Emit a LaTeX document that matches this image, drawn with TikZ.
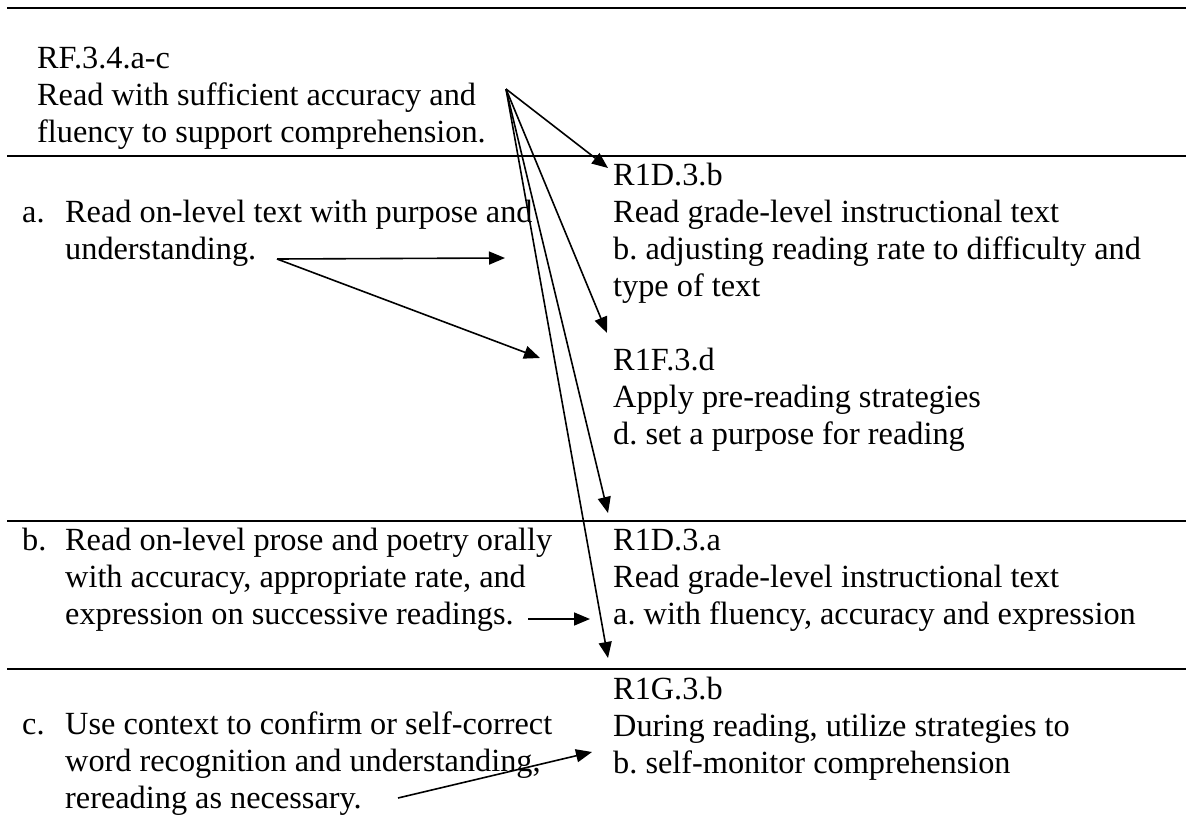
\documentclass[tikz,border=0pt]{standalone}
\usepackage{fontspec}
\setmainfont{Liberation Serif}
\usetikzlibrary{arrows.meta}
\frenchspacing
\begin{document}
\begin{tikzpicture}[x=1pt,y=-1pt,
  rule/.style={line width=2.6pt},
  txt/.style={anchor=north west, inner sep=0pt, align=left,
    font=\fontsize{32.3}{37.1}\selectfont},
  link/.style={line width=1.6pt, -{Triangle[length=16pt,width=13pt]}}]
\useasboundingbox (0,0) rectangle (1186,816);
\fill[white] (0,0) rectangle (1186,816);

% horizontal rules of the table
\draw[rule] (7,8) -- (1186,8);
\draw[rule] (7,156) -- (1186,156);
\draw[rule] (7,521) -- (1186,521);
\draw[rule] (7,669) -- (1186,669);

% header standard
\node[txt] (rf) at (37,42) {\strut RF.3.4.a-c\\Read with sufficient accuracy and\\fluency to support comprehension.};

% left column items
\node[txt] (la) at (22,196) {\strut a.};
\node[txt] (ta) at (65,196) {\strut Read on-level text with purpose and\\understanding.};
\node[txt] (lb) at (22,524) {\strut b.};
\node[txt] (tb) at (65,524) {\strut Read on-level prose and poetry orally\\with accuracy, appropriate rate, and\\expression on successive readings.};
\node[txt] (lc) at (22,708) {\strut c.};
\node[txt] (tc) at (65,708) {\strut Use context to confirm or self-correct\\word recognition and understanding,\\rereading as necessary.};

% right column standards
\node[txt] (r1) at (613,159) {\strut R1D.3.b\\Read grade-level instructional text\\b. adjusting reading rate to difficulty and\\type of text};
\node[txt] (r2) at (613,344) {\strut R1F.3.d\\Apply pre-reading strategies\\d. set a purpose for reading};
\node[txt] (r3) at (613,524) {\strut R1D.3.a\\Read grade-level instructional text\\a. with fluency, accuracy and expression};
\node[txt] (r4) at (613,673) {\strut R1G.3.b\\During reading, utilize strategies to\\b. self-monitor comprehension};

% connector end points
\coordinate (s) at (506,89);
\coordinate (e1) at (608,168);
\coordinate (e2) at (607,333);
\coordinate (e3) at (608,513);
\coordinate (e4) at (608,658);
\coordinate (sa) at (277,259);
\coordinate (ea1) at (505,258);
\coordinate (ea2) at (540,358);
\coordinate (sb) at (528,619);
\coordinate (eb) at (590,619);
\coordinate (sc) at (398,798);
\coordinate (ec) at (592,752);

% connectors
\draw[link] (s) -- (e1);
\draw[link] (s) -- (e2);
\draw[link] (s) -- (e3);
\draw[link] (s) -- (e4);
\draw[link] (sa) -- (ea1);
\draw[link] (sa) -- (ea2);
\draw[link] (sb) -- (eb);
\draw[link] (sc) -- (ec);
\end{tikzpicture}
\end{document}
